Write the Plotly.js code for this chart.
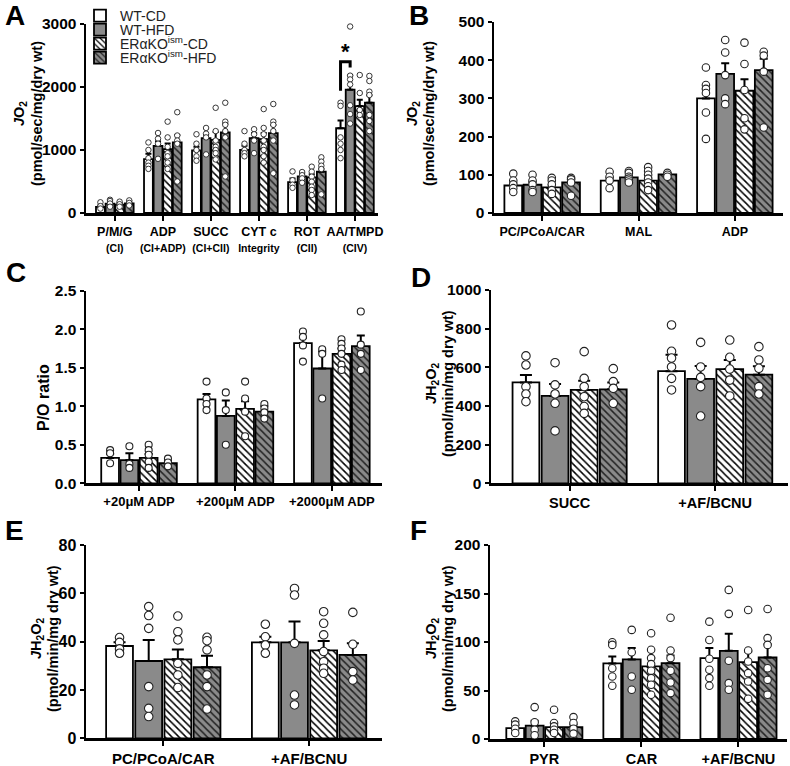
<!DOCTYPE html>
<html><head><meta charset="utf-8">
<script src="https://cdn.plot.ly/plotly-3.0.1.min.js"></script>
<style>body{margin:0;background:#fff}#chart{width:790px;height:766px}</style>
</head><body><div id="chart"></div>
<script>
// ---------- group names ----------
const groupNames = ['WT-CD', 'WT-HFD', 'ERαKO<sup>ism</sup>-CD', 'ERαKO<sup>ism</sup>-HFD'];

// ---------- Panel A ----------
const A_cats = ['P/M/G', 'ADP', 'SUCC', 'CYT c', 'ROT', 'AA/TMPD'];
const A_sub = ['(CI)', '(CI+ADP)', '(CI+CII)', 'Integrity', '(CII)', '(CIV)'];
const A_mean = [
  [95, 856, 993, 1003, 491, 1345],
  [148, 1067, 1188, 1188, 580, 1958],
  [132, 1014, 1162, 1173, 566, 1698],
  [153, 1120, 1278, 1268, 656, 1751]
];
const A_sem = [
  [25, 85, 60, 65, 55, 125],
  [30, 70, 55, 80, 45, 230],
  [25, 90, 125, 95, 48, 100],
  [30, 120, 140, 130, 45, 120]
];
const A_pts = [
  [[170, 110, 70], [1120, 1000, 870, 800, 750, 700], [1250, 1100, 1000, 900, 830], [1300, 1100, 1000, 950, 900], [660, 520, 450, 400], [1750, 1700, 1200, 1100, 1000, 870]],
  [[210, 190, 150, 100], [1270, 1180, 1100, 860], [1350, 1260, 1200, 930], [1330, 1250, 1150, 950], [650, 600, 550, 480], [2960, 2180, 2120, 2040, 1710, 1570, 1420]],
  [[180, 140, 100], [1450, 1200, 1050, 950, 900, 800, 700], [1670, 1300, 1150, 1050, 1000, 950, 850], [1650, 1350, 1250, 1150, 1050, 1000, 900, 800], [735, 656, 577, 497, 418, 365, 285], [2190, 1905, 1635, 1556]],
  [[200, 160, 120], [1600, 1230, 1150, 1100, 500], [1750, 1450, 1400, 1300, 1200, 580], [1730, 1450, 1400, 1300, 1150, 630], [884, 815, 751, 698, 296], [2175, 2095, 1926, 1873, 1556, 1460, 1300]]
];

// ---------- Panel B ----------
const B_cats = ['PC/PCoA/CAR', 'MAL', 'ADP'];
const B_mean = [[72, 85, 300], [74, 93, 364], [67, 85, 320], [80, 101, 374]];
const B_sem = [[7, 7, 25], [7, 5, 28], [6, 7, 30], [8, 4, 30]];
const B_pts = [
  [[103, 85, 75, 65, 55], [108, 95, 85, 65], [381, 335, 325, 314, 263, 194]],
  [[100, 85, 75, 60, 55], [110, 105, 95, 90, 85, 80], [453, 420, 361, 300, 285]],
  [[92, 85, 75, 60, 50], [120, 110, 100, 90, 80, 70, 60], [446, 390, 322, 248, 219]],
  [[92, 88, 80, 45], [105, 100, 95], [422, 412, 370, 224]]
];

// ---------- Panel C ----------
const C_cats = ['+20μM ADP', '+200μM ADP', '+2000μM ADP'];
const C_mean = [[0.33, 1.09, 1.82], [0.30, 0.875, 1.49], [0.33, 0.965, 1.68], [0.26, 0.93, 1.78]];
const C_sem = [[0.05, 0.07, 0.07], [0.09, 0.20, 0.22], [0.05, 0.10, 0.07], [0.03, 0.07, 0.14]];
const C_pts = [
  [[0.43, 0.39, 0.26], [1.32, 1.10, 1.03, 0.95], [1.97, 1.90, 1.79, 1.58]],
  [[0.48, 0.25, 0.20], [1.18, 0.95, 0.50], [1.74, 1.68, 1.10]],
  [[0.50, 0.43, 0.37, 0.28, 0.20], [1.32, 1.10, 0.93, 0.61], [1.87, 1.81, 1.75, 1.68, 1.54, 1.47]],
  [[0.32, 0.27, 0.22], [1.03, 0.97, 0.92, 0.84], [2.23, 1.80, 1.68, 1.47]]
];

// ---------- Panel D ----------
const D_cats = ['SUCC', '+AF/BCNU'];
const D_mean = [[522, 580], [452, 540], [483, 591], [486, 562]];
const D_sem = [[38, 85], [62, 67], [48, 47], [35, 43]];
const D_pts = [
  [[659, 612, 500, 462, 422], [819, 683, 648, 602, 543, 483]],
  [[624, 509, 462, 414, 271], [729, 602, 548, 500, 348]],
  [[681, 543, 500, 448, 397, 362], [741, 652, 591, 534, 452]],
  [[593, 526, 491, 414], [707, 638, 595, 500, 462]]
];

// ---------- Panel E ----------
const E_cats = ['PC/PCoA/CAR', '+AF/BCNU'];
const E_mean = [[38.2, 39.7], [32, 39.7], [32.7, 36.4], [29.4, 34.5]];
const E_sem = [[1.5, 2.3], [8.7, 8.6], [4.1, 3.9], [4.8, 4.8]];
const E_pts = [
  [[41.7, 39.7, 37, 35.2], [47.2, 42, 38.6, 35.2]],
  [[54.5, 50.8, 45.5, 21.4, 12.4, 9], [62, 59.3, 39.3, 17.9, 13.8]],
  [[50.6, 44.1, 40.7, 31, 26.2, 21], [52.4, 47.6, 42.8, 35.9, 31.7, 29, 26.9]],
  [[41.8, 40.4, 36.6, 26.2, 21.4, 12.1], [52.1, 38.9, 27.6, 24.1]]
];

// ---------- Panel F ----------
const F_cats = ['PYR', 'CAR', '+AF/BCNU'];
const F_mean = [[11.3, 77.9, 83.4], [13.7, 82, 90.9], [12.3, 74.8, 79.2], [12.3, 78.2, 84]];
const F_sem = [[3.5, 7.1, 10.3], [5.2, 11.7, 17.5], [2.5, 8.6, 11], [2.5, 7.9, 13.8]];
const F_pts = [
  [[18.2, 14.8, 10.6, 6.2], [99.8, 97, 73, 64.5, 54.9], [121, 102, 82.7, 71.4, 62.8, 54.9]],
  [[32.9, 17.2, 9.6, 3.8], [112.5, 89.5, 64.5, 50.8], [153.7, 129, 80.6, 57.6, 50.8]],
  [[30.2, 16.5, 13, 9.6, 6.2], [109, 92, 83.4, 77.2, 70.3, 62.8, 55.9, 45.6], [133, 91.2, 79.9, 67.9, 59.3, 41.5]],
  [[22.6, 16.5, 10.6, 5.5], [125, 91.2, 83.4, 70.3, 58.3, 47.3], [134, 104, 97, 73, 61, 45.6]]
];

// ---------- styling ----------
const FONT = 'Arial, "Liberation Sans", Helvetica, sans-serif';
const GRAY = '#8a8a8a';
const barStyles = [
  {color: '#ffffff', pattern: {shape: ''}},
  {color: GRAY, pattern: {shape: ''}},
  {color: '#ffffff', pattern: {shape: '\\', fgcolor: '#000000', bgcolor: '#ffffff', size: 5, solidity: 0.3}},
  {color: GRAY, pattern: {shape: '\\', fgcolor: '#222222', bgcolor: GRAY, size: 5, solidity: 0.3}}
];
const BARGAP = 0.2;
const slot = (1 - BARGAP) / 4;
const offsets = [0, 1, 2, 3].map(k => -(1 - BARGAP) / 2 + (k + 0.5) * slot);

const W = 790, H = 766;
const px = v => v / W, py = v => 1 - v / H;

const JO2 = ['<i>J</i>O<sub>2</sub>', '(pmol/sec/mg/dry wt)'];
const JH2O2 = ['<i>J</i>H<sub>2</sub>O<sub>2</sub>', '(pmol/min/mg dry wt)'];

const panels = [
  {id: 'A', xa: 'x', ya: 'y', cats: A_cats.map((c, i) => c + '<br><span style="font-size:10.5px">' + A_sub[i] + '</span>'),
   mean: A_mean, sem: A_sem, pts: A_pts, xr: [-0.6, 5.48], yr: [0, 3000], dtick: 1000,
   xd: [86, 378], yd: [24, 213], msize: 5.5, lw: 0.9, xfs: 12.5, yfs: 15.5,
   title: JO2, tx: [20, 37], tyc: 114, tfs: 14.5, cap: 3},
  {id: 'B', xa: 'x2', ya: 'y2', cats: B_cats, mean: B_mean, sem: B_sem, pts: B_pts,
   xr: [-0.5, 2.5], yr: [0, 500], dtick: 100, xd: [494, 783], yd: [22, 213], msize: 7.5, lw: 1.1, xfs: 12.5, yfs: 15.5,
   title: JO2, tx: [413, 429], tyc: 114, tfs: 14.5, cap: 4},
  {id: 'C', xa: 'x3', ya: 'y3', cats: C_cats, mean: C_mean, sem: C_sem, pts: C_pts,
   xr: [-0.55, 2.52], yr: [0, 2.5], dtick: 0.5, xd: [86, 382], yd: [290.7, 483.3], msize: 7, lw: 1.1, xfs: 13, yfs: 15.5,
   title: ['P/O ratio'], tx: [43], tyc: 398, tfs: 16, cap: 4, tickformat: '.1f'},
  {id: 'D', xa: 'x4', ya: 'y4', cats: D_cats, mean: D_mean, sem: D_sem, pts: D_pts,
   xr: [-0.54, 1.5], yr: [0, 1000], dtick: 200, xd: [491, 788], yd: [290, 483.3], msize: 8.5, lw: 1.1, xfs: 14.5, yfs: 15.5,
   title: JH2O2, tx: [432, 448], tyc: 384, tfs: 14.5, cap: 6},
  {id: 'E', xa: 'x5', ya: 'y5', cats: E_cats, mean: E_mean, sem: E_sem, pts: E_pts,
   xr: [-0.53, 1.5], yr: [0, 80], dtick: 20, xd: [86, 382], yd: [545, 738.3], msize: 8.5, lw: 1.1, xfs: 15, yfs: 16,
   title: JH2O2, tx: [37, 53], tyc: 639, tfs: 14.5, cap: 6},
  {id: 'F', xa: 'x6', ya: 'y6', cats: F_cats, mean: F_mean, sem: F_sem, pts: F_pts,
   xr: [-0.56, 2.5], yr: [0, 200], dtick: 50, xd: [490, 787], yd: [545, 739], msize: 7.5, lw: 1.1, xfs: 14.5, yfs: 15.5,
   title: JH2O2, tx: [432, 448], tyc: 639, tfs: 14.5, cap: 4}
];

const legendIds = ['legend', 'legend2', 'legend3', 'legend4'];
const traces = [];
const layout = {
  width: W, height: H, margin: {l: 0, r: 0, t: 0, b: 0},
  paper_bgcolor: '#ffffff', plot_bgcolor: 'rgba(0,0,0,0)',
  barmode: 'group', bargap: BARGAP, bargroupgap: 0.08,
  font: {family: FONT, color: '#000'},
  showlegend: true, annotations: [], shapes: []
};

panels.forEach(p => {
  for (let k = 0; k < 4; k++) {
    traces.push({
      type: 'bar', x: p.cats.map((_, i) => i), y: p.mean[k], xaxis: p.xa, yaxis: p.ya,
      name: groupNames[k], showlegend: p.id === 'A', legend: legendIds[k],
      marker: {color: barStyles[k].color, line: {color: '#000', width: 1.8}, pattern: barStyles[k].pattern},
      error_y: {type: 'data', symmetric: false, array: p.sem[k], arrayminus: p.sem[k].map(() => 0),
                color: '#000', thickness: 2, width: p.cap},
      hoverinfo: 'skip'
    });
  }
  for (let k = 0; k < 4; k++) {
    const xs = [], ys = [];
    p.pts[k].forEach((list, i) => list.forEach(v => { xs.push(i + offsets[k]); ys.push(v); }));
    traces.push({
      type: 'scatter', mode: 'markers', x: xs, y: ys, xaxis: p.xa, yaxis: p.ya, showlegend: false,
      marker: {symbol: 'circle', size: p.msize, color: '#ffffff', line: {color: '#222', width: p.lw}},
      cliponaxis: false, hoverinfo: 'skip'
    });
  }
  const xkey = 'xaxis' + p.xa.slice(1), ykey = 'yaxis' + p.ya.slice(1);
  layout[xkey] = {
    domain: [px(p.xd[0]), px(p.xd[1])], range: p.xr, anchor: p.ya, fixedrange: true,
    tickmode: 'array', tickvals: p.cats.map((_, i) => i), ticktext: p.cats,
    showline: true, linecolor: '#000', linewidth: 2.5, ticks: 'outside', ticklen: 5, tickwidth: 2, tickcolor: '#000',
    showgrid: false, zeroline: false,
    tickfont: {family: FONT, size: p.xfs, weight: 'bold', color: '#000'}
  };
  layout[ykey] = {
    domain: [py(p.yd[1]), py(p.yd[0])], range: p.yr, anchor: p.xa, fixedrange: true,
    tick0: 0, dtick: p.dtick, tickformat: p.tickformat || '',
    showline: true, linecolor: '#000', linewidth: 2.5, ticks: 'outside', ticklen: 4, tickwidth: 2, tickcolor: '#000',
    showgrid: false, zeroline: false,
    tickfont: {family: FONT, size: p.yfs, weight: 'bold', color: '#000'}
  };
  // y-axis title lines (rotated annotations for tight line spacing)
  p.title.forEach((t, j) => layout.annotations.push({
    text: t, textangle: -90, xref: 'paper', yref: 'paper', x: px(p.tx[j]), y: py(p.tyc),
    xanchor: 'center', yanchor: 'middle', showarrow: false,
    font: {family: FONT, size: p.tfs, weight: 'bold', color: '#000'}
  }));
});

// legends (one entry each, to get tight spacing)
const legendTops = [0, 14, 28, 42];
legendIds.forEach((id, k) => {
  layout[id] = {
    x: px(80), y: py(legendTops[k]), xanchor: 'left', yanchor: 'top',
    bgcolor: 'rgba(0,0,0,0)', borderwidth: 0, itemwidth: 30,
    font: {family: FONT, size: 14, color: '#222'}, tracegroupgap: 0
  };
});

// panel letters
const letters = [['A', 15, 16], ['B', 419, 16], ['C', 16, 272], ['D', 421, 277], ['E', 14, 530], ['F', 418, 530]];
letters.forEach(([t, x, y]) => layout.annotations.push({
  text: '<b>' + t + '</b>', xref: 'paper', yref: 'paper', x: px(x), y: py(y),
  xanchor: 'center', yanchor: 'middle', showarrow: false, font: {family: FONT, size: 28, color: '#000'}
}));

// significance bracket in panel A (WT-CD vs WT-HFD, AA/TMPD)
const sigCat = A_cats.indexOf('AA/TMPD');
const bx0 = sigCat + offsets[0], bx1 = sigCat + offsets[1];
layout.shapes.push({
  type: 'path', xref: 'x', yref: 'y',
  path: `M ${bx0} 1940 L ${bx0} 2400 L ${bx1} 2400 L ${bx1} 2310`,
  line: {color: '#000', width: 3}
});
layout.annotations.push({
  text: '<b>*</b>', xref: 'x', yref: 'y', x: (bx0 + bx1) / 2, y: 2560,
  xanchor: 'center', yanchor: 'middle', showarrow: false, font: {family: FONT, size: 22, color: '#000'}
});

Plotly.newPlot('chart', traces, layout, {staticPlot: true, displayModeBar: false});
</script></body></html>
